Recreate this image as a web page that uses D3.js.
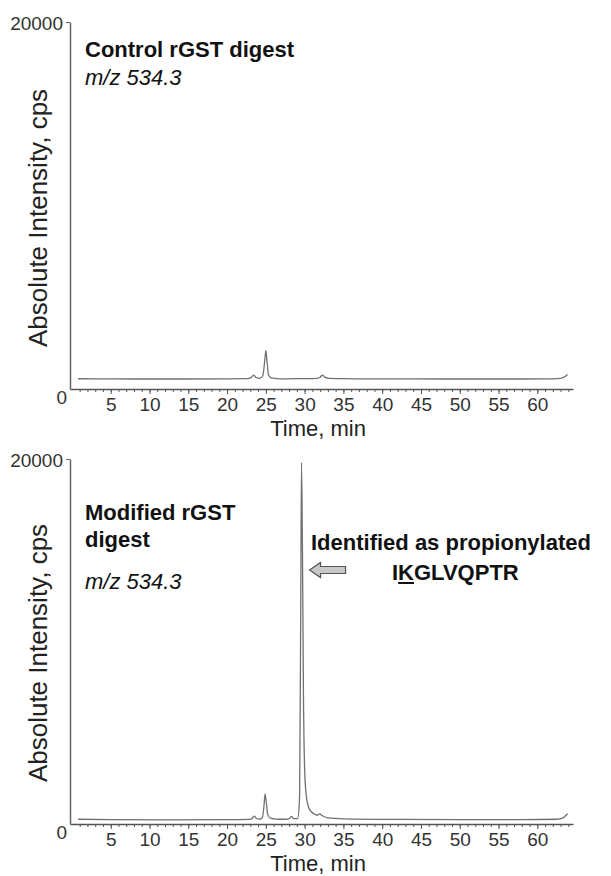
<!DOCTYPE html>
<html>
<head>
<meta charset="utf-8">
<script src="https://cdn.jsdelivr.net/npm/d3@7/dist/d3.min.js"></script>
<style>
    body{margin:0;background:#fff;}
    text{font-family:Arial,"Liberation Sans",sans-serif;}
</style>
</head>
<body>
<script>
//control digest trace (min, cps)
var ctrlTime = [0.8, 3, 8, 14, 20, 22.6, 23.1, 23.4, 23.7, 24.2, 24.6, 24.85, 25.0, 25.15, 25.35, 25.7, 26.3, 27.5, 29, 30.5, 31.6, 32.0, 32.3, 32.6, 33.2, 35, 40, 48, 55, 61, 63.0, 63.5, 63.9];
var ctrlInt  = [560, 550, 545, 545, 550, 560, 620, 760, 640, 580, 720, 1500, 2100, 1500, 760, 600, 570, 555, 560, 560, 580, 640, 760, 650, 580, 560, 550, 545, 545, 550, 580, 660, 790];

//modified digest trace (min, cps)
var modTime = [0.8, 5, 12, 20, 22.8, 23.2, 23.5, 23.8, 24.2, 24.55, 24.75, 24.9, 25.05, 25.25, 25.6, 26.3, 27.6, 28.0, 28.3, 28.6, 29.1, 29.35, 29.5, 29.6, 29.72, 29.85, 30.0, 30.2, 30.45, 30.8, 31.2, 31.6, 31.9, 32.3, 33, 35, 42, 50, 58, 62.5, 63.3, 63.9];
var modInt  = [260, 240, 230, 235, 250, 290, 430, 300, 260, 350, 950, 1650, 1200, 500, 320, 270, 260, 290, 420, 290, 300, 1500, 12000, 19800, 15000, 7000, 3000, 1600, 1000, 700, 560, 480, 560, 450, 330, 280, 250, 240, 240, 260, 340, 560];

//axis ticks
var xTicks = [5, 10, 15, 20, 25, 30, 35, 40, 45, 50, 55, 60];
var xMinor = d3.range(1, 65);
var yTicks = [0, 20000];

(function(){
    var width = 611, height = 876;

    var svg = d3.select("body").append("svg")
        .attr("width", width)
        .attr("height", height);

    //two stacked panels sharing the same x scale
    var x = d3.scaleLinear().domain([-0.25, 64.6]).range([70, 573]);

    var panels = [
        {top: 22,  bottom: 389, time: ctrlTime, val: ctrlInt, title: ["Control rGST digest"], titleY: 57, mzY: 85, labelY: 218},
        {top: 459, bottom: 824, time: modTime,  val: modInt,  title: ["Modified rGST", "digest"], titleY: 520, mzY: 589, labelY: 653}
    ];

    panels.forEach(function(p, i){
        var y = d3.scaleLinear().domain([0, 20000]).range([p.bottom, p.top]);
        var g = svg.append("g").attr("class", "panel" + i);

        //minor ticks every minute
        g.append("g")
            .attr("transform", "translate(0," + p.bottom + ")")
            .call(d3.axisBottom(x).tickValues(xMinor).tickSize(3).tickSizeOuter(0).tickFormat(""))
            .call(function(a){
                a.select(".domain").remove();
                a.selectAll("line").attr("stroke", "#555");
            });

        //major ticks and labels
        g.append("g")
            .attr("transform", "translate(0," + p.bottom + ")")
            .call(d3.axisBottom(x).tickValues(xTicks).tickSize(5).tickSizeOuter(0).tickPadding(3.5))
            .call(function(a){
                a.select(".domain").attr("stroke", "#555").attr("stroke-width", 1.5);
                a.selectAll("line").attr("stroke", "#555");
                a.selectAll("text").attr("font-size", 19).attr("fill", "#333")
                    .attr("font-family", "Arial, 'Liberation Sans', sans-serif");
            });

        //y axis: only 0 and 20000 labelled
        g.append("g")
            .attr("transform", "translate(70,0)")
            .call(d3.axisLeft(y).tickValues(yTicks).tickSize(4).tickSizeOuter(0).tickPadding(3).tickFormat(d3.format("d")))
            .call(function(a){
                a.select(".domain").attr("stroke", "#666").attr("stroke-width", 1.5);
                a.selectAll("line").attr("stroke", "#666");
                a.selectAll("text").attr("font-size", 19).attr("fill", "#333")
                    .attr("font-family", "Arial, 'Liberation Sans', sans-serif");
                a.selectAll(".tick").filter(function(d){ return d == 0; })
                    .call(function(t){
                        t.select("line").remove();
                        t.select("text").attr("x", -3).attr("dy", "0.78em");
                    });
                a.selectAll(".tick").filter(function(d){ return d == 20000; })
                    .select("text").attr("x", -7).attr("dy", "0.4em");
            });

        //axis titles
        g.append("text")
            .attr("transform", "translate(47," + p.labelY + ") rotate(-90)")
            .attr("text-anchor", "middle")
            .attr("font-size", 26)
            .attr("fill", "#222")
            .text("Absolute Intensity, cps");

        g.append("text")
            .attr("x", 318)
            .attr("y", p.bottom + 47)
            .attr("text-anchor", "middle")
            .attr("font-size", 22)
            .attr("fill", "#222")
            .text("Time, min");

        //the chromatogram itself
        var line = d3.line()
            .x(function(d){ return x(d[0]); })
            .y(function(d){ return y(d[1]); })
            .curve(d3.curveMonotoneX);

        g.append("path")
            .datum(d3.zip(p.time, p.val))
            .attr("fill", "none")
            .attr("stroke", "#707070")
            .attr("stroke-width", 1.3)
            .attr("d", line);

        //sample labels
        p.title.forEach(function(t, k){
            g.append("text")
                .attr("x", 85)
                .attr("y", p.titleY + k * 27)
                .attr("font-size", 22)
                .attr("font-weight", "bold")
                .attr("fill", "#111")
                .text(t);
        });
        g.append("text")
            .attr("x", 85)
            .attr("y", p.mzY)
            .attr("font-size", 22)
            .attr("font-style", "italic")
            .attr("fill", "#111")
            .text("m/z 534.3");

        //annotation for the propionylated peak
        if (i == 1){
            var px = x(29.6) + 8, py = 570;
            svg.append("text")
                .attr("x", 311)
                .attr("y", 550)
                .attr("font-size", 22)
                .attr("font-weight", "bold")
                .attr("fill", "#111")
                .text("Identified as propionylated");

            var pep = svg.append("text")
                .attr("x", 392)
                .attr("y", 580)
                .attr("font-size", 22)
                .attr("font-weight", "bold")
                .attr("fill", "#111")
                .text("IKGLVQPTR");
            //underline the modified lysine
            var kx = pep.node().getStartPositionOfChar(1).x,
                kw = pep.node().getSubStringLength(1, 1);
            svg.append("line")
                .attr("x1", kx).attr("x2", kx + kw)
                .attr("y1", 583).attr("y2", 583)
                .attr("stroke", "#111").attr("stroke-width", 2);

            //block arrow pointing at the peak
            var ar = d3.path();
            ar.moveTo(px, py);
            ar.lineTo(px + 11, py - 7.5);
            ar.lineTo(px + 11, py - 3.5);
            ar.lineTo(px + 36, py - 3.5);
            ar.lineTo(px + 36, py + 3.5);
            ar.lineTo(px + 11, py + 3.5);
            ar.lineTo(px + 11, py + 7.5);
            ar.closePath();
            svg.append("path")
                .attr("d", ar.toString())
                .attr("fill", "#c8c8c8")
                .attr("stroke", "#555")
                .attr("stroke-width", 1.2);
        }
    });
})();
</script>
</body>
</html>
